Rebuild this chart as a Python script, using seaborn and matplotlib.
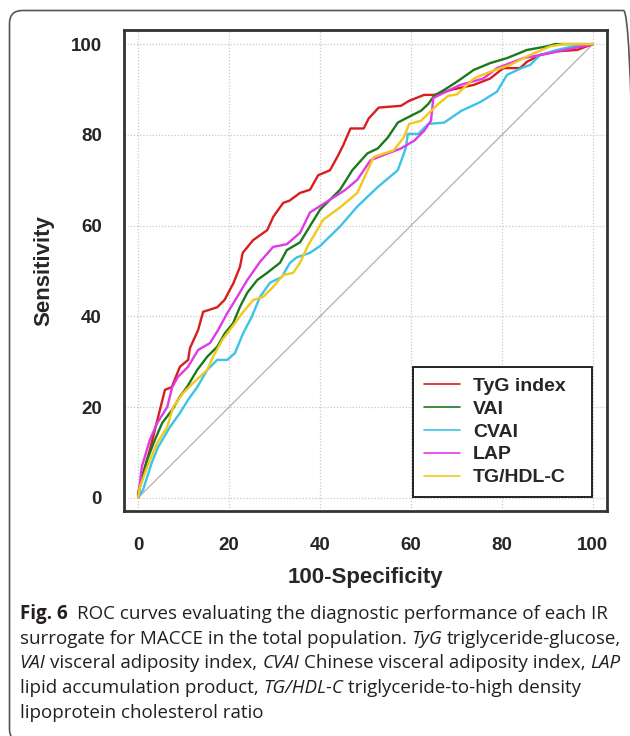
import numpy as np
import pandas as pd
import seaborn as sns
import matplotlib
matplotlib.use("Agg")
import matplotlib.pyplot as plt
from matplotlib.patches import FancyBboxPatch

## ROC curves (100-specificity, sensitivity), in percent
tyg_x = [0, 0, 1.1, 2.6, 4.4, 5.9, 7.4, 9.2, 11.0, 11.4, 13.2, 14.3, 17.4, 19.0, 21.0, 22.4, 23.0,
         25.3, 28.4, 29.7, 31.9, 33.3, 35.6, 37.8, 39.6, 42.2, 44.0, 45.1, 46.7, 49.6, 50.7, 52.9,
         57.8, 59.6, 62.9, 65.1, 69.2, 73.8, 77.4, 80.3, 84.0, 85.5, 88.4, 92.1, 96.5, 100]
tyg_y = [0, 1.0, 5.5, 10.6, 17.8, 23.8, 24.4, 28.9, 30.4, 33.0, 37.0, 41.0, 42.0, 43.6, 47.4, 50.9, 54.0,
         56.8, 59.0, 61.9, 65.0, 65.5, 67.2, 67.9, 71.1, 72.2, 75.5, 77.7, 81.4, 81.4, 83.6, 86.0,
         86.4, 87.5, 88.8, 88.8, 90.0, 91.0, 92.4, 94.7, 94.7, 96.1, 97.6, 98.4, 98.7, 100]

vai_x = [0, 0.4, 2.0, 3.7, 5.3, 7.5, 9.2, 10.8, 13.0, 15.2, 17.4, 19.1, 20.9, 22.4, 24.0, 26.2, 28.4,
         31.2, 32.7, 35.6, 40.0, 44.4, 47.1, 50.4, 52.7, 54.9, 57.1, 60.0, 62.2, 63.8, 65.1, 67.3,
         70.1, 73.8, 77.4, 81.1, 85.5, 89.9, 91.7, 100]
vai_y = [0, 2.4, 8.4, 12.8, 16.5, 19.4, 22.3, 24.5, 28.2, 31.1, 33.3, 36.3, 38.5, 42.1, 45.2, 48.0, 49.6,
         51.8, 54.6, 56.3, 63.5, 67.9, 72.2, 75.9, 77.0, 79.4, 82.7, 84.2, 85.3, 86.8, 88.6, 89.9,
         91.7, 94.3, 95.8, 96.9, 98.7, 99.5, 100, 100]

cvai_x = [0, 1.1, 3.0, 4.4, 7.0, 9.2, 11.0, 13.0, 15.2, 17.4, 19.6, 21.3, 23.1, 25.0, 26.8, 29.0, 31.6,
          33.4, 34.9, 37.8, 40.0, 44.4, 48.2, 52.7, 57.1, 58.9, 59.3, 61.6, 63.8, 67.3, 71.1, 75.2,
          78.9, 81.1, 84.3, 86.2, 88.4, 92.1, 95.7, 100]
cvai_y = [0, 1.8, 7.7, 11.2, 15.6, 18.7, 21.6, 24.4, 28.2, 30.4, 30.4, 31.9, 36.3, 39.9, 44.3, 47.4, 48.7,
          51.8, 53.0, 54.0, 55.5, 59.8, 64.2, 68.5, 72.2, 77.2, 80.2, 80.2, 82.4, 82.7, 85.3, 87.2,
          89.5, 93.2, 94.7, 95.4, 97.6, 98.7, 99.5, 100]

lap_x = [0, 0.8, 2.6, 4.2, 6.4, 7.5, 8.8, 11.0, 13.2, 15.8, 17.6, 19.6, 21.8, 24.0, 26.8, 29.7, 32.7,
         35.6, 37.8, 42.2, 45.6, 48.2, 51.1, 54.9, 57.8, 60.7, 62.9, 64.4, 64.9, 66.7, 70.8, 75.9,
         78.9, 84.7, 90.6, 95.7, 99.4, 100]
lap_y = [0, 6.8, 12.8, 16.5, 20.0, 24.4, 26.7, 28.9, 32.6, 34.1, 37.0, 40.7, 44.3, 48.0, 52.0, 55.3, 55.9,
         58.4, 62.9, 65.7, 67.9, 70.1, 74.4, 75.9, 77.0, 78.7, 80.9, 83.1, 88.1, 89.0, 91.0, 92.4,
         94.7, 96.9, 98.0, 99.1, 99.8, 100]

tghdl_x = [0, 0.4, 2.0, 4.2, 6.4, 7.7, 9.9, 12.1, 15.2, 16.5, 18.5, 20.7, 22.9, 25.3, 27.5, 29.7, 31.9,
           34.1, 35.6, 37.3, 40.7, 44.4, 48.2, 51.8, 56.2, 58.4, 59.6, 62.2, 66.0, 68.2, 70.1, 73.8,
           77.4, 81.8, 86.2, 90.6, 93.5, 100]
tghdl_y = [0, 2.4, 6.8, 12.1, 15.6, 20.0, 23.1, 25.3, 28.2, 31.1, 34.8, 37.7, 40.7, 43.6, 44.3, 46.5, 49.1,
           49.6, 51.8, 55.5, 61.3, 64.0, 67.2, 75.1, 76.6, 79.4, 82.4, 83.1, 86.8, 88.6, 88.9, 92.4,
           93.9, 95.4, 97.6, 99.5, 100, 100]

ref_x = [0, 100]
ref_y = [0, 100]

labels = ["TyG index", "VAI", "CVAI", "LAP", "TG/HDL-C"]
colors = ["#d81e1e", "#1b7a1b", "#3cc3e8", "#e03ae6", "#f2c81c"]
ticks = [0, 20, 40, 60, 80, 100]

curves = [(tyg_x, tyg_y), (vai_x, vai_y), (cvai_x, cvai_y), (lap_x, lap_y), (tghdl_x, tghdl_y)]

sns.set_style("white")
plt.rcParams["font.family"] = ["Liberation Sans", "DejaVu Sans"]

fig = plt.figure(figsize=(6.3, 7.36), dpi=100)
ax = fig.add_axes([124 / 630, 1 - 511 / 736, (607 - 124) / 630, (511 - 30) / 736])

ax.grid(True, ls=(0, (1, 1.5)), color="#c8c8c8", lw=0.9)
ax.set_axisbelow(True)

sns.lineplot(x=ref_x, y=ref_y, ax=ax, color="#b8adad", lw=0.9, estimator=None, sort=False)
for (cx, cy), lab, col in zip(curves, labels, colors):
    df = pd.DataFrame({"fpr": cx, "tpr": cy})
    sns.lineplot(data=df, x="fpr", y="tpr", ax=ax, color=col, lw=1.7,
                 estimator=None, sort=False, label=lab)

ax.set_xlim(-3.1, 103.1)
ax.set_ylim(-2.9, 103.1)
ax.set_xticks(ticks)
ax.set_yticks(ticks)
for s in ax.spines.values():
    s.set_linewidth(2.0)
    s.set_color("#333333")
ax.tick_params(direction="out", length=10, width=1.6, color="#333333", labelsize=13.5)
ax.tick_params(axis="x", pad=9)
ax.tick_params(axis="y", pad=6)
for t in ax.get_xticklabels() + ax.get_yticklabels():
    t.set_fontweight("bold")

ax.set_xlabel("100-Specificity", fontsize=16, fontweight="bold", labelpad=9)
ax.set_ylabel("Sensitivity", fontsize=16, fontweight="bold", labelpad=12)

leg = ax.legend(loc="lower left", bbox_to_anchor=(0.598, 0.029, 0.371, 0.275), mode="expand",
                frameon=True, fancybox=False, edgecolor="#222222", framealpha=1,
                prop={"weight": "bold", "size": 14}, handlelength=1.9, handletextpad=0.65,
                labelspacing=0.27, borderpad=0.55, borderaxespad=0)
leg.get_frame().set_linewidth(1.4)
for line in leg.get_lines():
    line.set_linewidth(1.2)

# rounded frame around the whole figure (right and bottom edges fall off the canvas)
frame = FancyBboxPatch((0.095, -0.06), 6.27, 7.255 + 0.06, boxstyle="round,pad=0,rounding_size=0.13",
                       transform=fig.dpi_scale_trans, fill=False, edgecolor="#555555", lw=1.2)
fig.patches.append(frame)

# caption with mixed styles
cap_font = ["Open Sans", "DejaVu Sans"]
cap_size = 13.5
cap_color = "#231f20"
renderer = fig.canvas.get_renderer()
W = fig.bbox.width


def width_of(txt, **kw):
    t = fig.text(0, 0, txt, fontsize=cap_size, family=cap_font, **kw)
    w = t.get_window_extent(renderer).width
    t.remove()
    return w / W


space = width_of("x x") - width_of("xx")

cap_lines = [
    [("Fig. 6", "bold", 2.0), ("ROC curves evaluating the diagnostic performance of each IR", "normal", 0)],
    [("surrogate for MACCE in the total population.", "normal", 1), ("TyG", "italic", 1),
     ("triglyceride-glucose,", "normal", 0)],
    [("VAI", "italic", 1), ("visceral adiposity index,", "normal", 1), ("CVAI", "italic", 1),
     ("Chinese visceral adiposity index,", "normal", 1), ("LAP", "italic", 0)],
    [("lipid accumulation product,", "normal", 1), ("TG/HDL-C", "italic", 1),
     ("triglyceride-to-high density", "normal", 0)],
    [("lipoprotein cholesterol ratio", "normal", 0)],
]
baselines = [619, 643.5, 668, 693, 718]

for runs, yb in zip(cap_lines, baselines):
    x = 19.5 / 630
    for txt, style, gap in runs:
        kw = {}
        if style == "bold":
            kw["fontweight"] = "bold"
        if style == "italic":
            kw["fontstyle"] = "italic"
        t = fig.text(x, 1 - yb / 736, txt, fontsize=cap_size, family=cap_font, color=cap_color,
                     va="baseline", ha="left", **kw)
        x += t.get_window_extent(renderer).width / W + gap * space

fig.savefig("out.png", dpi=100)
